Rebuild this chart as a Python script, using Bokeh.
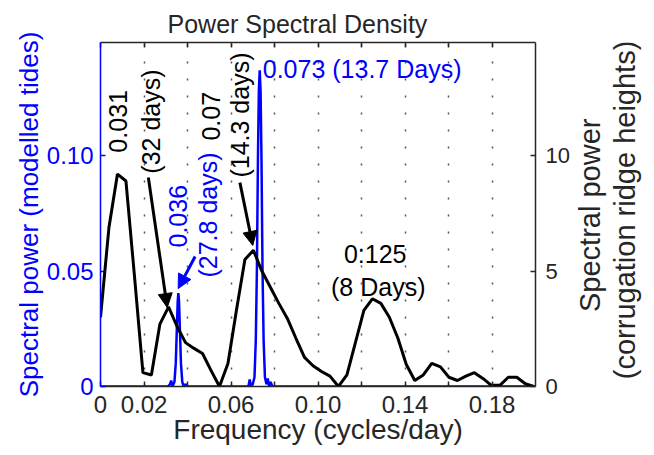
import math
from bokeh.plotting import figure
from bokeh.layouts import row
from bokeh.models import Range1d, LinearAxis, FixedTicker, Arrow, NormalHead, Label, Grid
from bokeh.core.properties import value
from bokeh.embed import file_html
from bokeh.resources import INLINE

# ---------------- data ----------------
# corrugation ridge heights spectrum (right axis)
freq_ridge = [0.0, 0.0039, 0.0078, 0.0117, 0.0156, 0.0195, 0.0234, 0.0273, 0.0313, 0.0352,
              0.0391, 0.0430, 0.0469, 0.0508, 0.0547, 0.0586, 0.0625, 0.0664, 0.0703, 0.0742,
              0.0781, 0.0820, 0.0859, 0.0898, 0.0938, 0.0977, 0.1016, 0.1055, 0.1094, 0.1133,
              0.1172, 0.1211, 0.1250, 0.1289, 0.1328, 0.1367, 0.1406, 0.1445, 0.1484, 0.1523,
              0.1563, 0.1602, 0.1641, 0.1680, 0.1719, 0.1758, 0.1797, 0.1836, 0.1875, 0.1914,
              0.1953, 0.1992]
power_ridge = [3.0, 6.9, 9.2, 8.9, 4.8, 0.6, 0.5, 2.7, 3.45, 2.6,
               1.9, 1.65, 1.43, 0.7, 0.0, 1.0, 3.3, 5.5, 5.9, 5.0,
               4.3, 3.6, 2.95, 2.1, 1.26, 0.9, 0.65, 0.45, 0.0, 0.5,
               1.9, 3.3, 3.8, 3.6, 3.0, 2.1, 0.95, 0.26, 0.5, 1.0,
               0.85, 0.4, 0.26, 0.45, 0.6, 0.35, 0.05, 0.05, 0.4, 0.4,
               0.12, 0.0]

# modelled tides spectrum (left axis)
freq_tide = [0.0, 0.0310, 0.0320, 0.0325, 0.0331, 0.0340, 0.0346, 0.0351, 0.0355, 0.0358,
             0.0361, 0.0365, 0.0370, 0.0376, 0.0382, 0.0390, 0.0400, 0.0660, 0.0680, 0.0686,
             0.0692, 0.0700, 0.0708, 0.0714, 0.0719, 0.0724, 0.0728, 0.0732, 0.0736, 0.0740,
             0.0745, 0.0750, 0.0756, 0.0763, 0.0769, 0.0775, 0.0782, 0.0790, 0.0800, 0.2000]
power_tide = [0.0, 0.0, 0.001, 0.0026, 0.0, 0.002, 0.010, 0.025, 0.037, 0.0405,
              0.037, 0.025, 0.010, 0.002, 0.0, 0.001, 0.0, 0.0, 0.0, 0.003,
              0.0, 0.001, 0.004, 0.02, 0.05, 0.10, 0.128, 0.137, 0.128, 0.10,
              0.05, 0.02, 0.004, 0.001, 0.0035, 0.0, 0.002, 0.0, 0.0, 0.0]

x_tick_values = [0.0, 0.02, 0.04, 0.06, 0.08, 0.10, 0.12, 0.14, 0.16, 0.18]
x_tick_labels = ["0", "0.02", "", "0.06", "", "0.10", "", "0.14", "", "0.18"]
x_grid_values = [0.02, 0.04, 0.06, 0.08, 0.10, 0.12, 0.14, 0.16, 0.18]
left_tick_values = [0.0, 0.05, 0.10]
left_tick_labels = ["0", "0.05", "0.10"]
right_tick_values = [0, 5, 10]
right_tick_labels = ["0", "5", "10"]

# annotations
rot_text = ["0.031", "(32 days)", "0.036", "(27.8 days)", "0.07", "(14.3 days)"]
rot_x = [0.0082, 0.0233, 0.0357, 0.0494, 0.0508, 0.0641]
rot_y = [0.1013, 0.0922, 0.0602, 0.0472, 0.1065, 0.0905]
rot_color = ["black", "black", "#0000ff", "#0000ff", "black", "black"]

hor_text = ["0.073 (13.7 Days)", "0:125", "(8 Days)"]
hor_x = [0.0746, 0.1263, 0.1277]
hor_y = [0.1377, 0.0576, 0.0433]
hor_align = ["left", "center", "center"]
hor_color = ["#0000ff", "black", "black"]

arrow_x0 = [0.0220, 0.0435, 0.0641]
arrow_y0 = [0.0905, 0.0563, 0.0883]
arrow_x1 = [0.0307, 0.0357, 0.0700]
arrow_y1 = [0.0342, 0.0424, 0.0611]
arrow_color = ["black", "#0000ff", "black"]

right_label_lines = ["Spectral power", "(corrugation ridge heights)"]

FONT = "Liberation Sans"
DARK = "#262626"
BLUE = "#0000ff"

p = figure(width=572, height=452, output_backend="svg", toolbar_location=None,
           x_range=Range1d(0, 0.2), y_range=Range1d(0, 0.149),
           x_axis_location=None, y_axis_location=None,
           min_border_left=100, min_border_right=35, min_border_top=42, min_border_bottom=66)
p.extra_y_ranges = {"ridge": Range1d(0, 14.9)}
p.outline_line_color = None
p.background_fill_color = "white"
p.border_fill_color = "white"
p.center = [r for r in p.center if not isinstance(r, Grid)]

p.title.text = "Power Spectral Density"
p.title.text_font = FONT
p.title.text_font_size = "25px"
p.title.text_font_style = "normal"
p.title.text_color = DARK
p.title.align = "left"
p.title.offset = 67
p.title.standoff = 10


def style_axis(ax, color, label_size, tick_size="24px"):
    ax.axis_line_color = color
    ax.axis_line_width = 1.5
    ax.major_tick_line_color = color
    ax.major_tick_line_width = 1.5
    ax.major_tick_in = 5
    ax.major_tick_out = 0
    ax.minor_tick_line_color = None
    ax.major_label_text_color = color
    ax.major_label_text_font = FONT
    ax.major_label_text_font_size = tick_size
    ax.axis_label_text_color = color
    ax.axis_label_text_font = FONT
    ax.axis_label_text_font_size = label_size
    ax.axis_label_text_font_style = "normal"


bottom = LinearAxis(ticker=FixedTicker(ticks=x_tick_values),
                    major_label_overrides=dict(zip(x_tick_values, x_tick_labels)),
                    axis_label="Frequency (cycles/day)")
style_axis(bottom, DARK, "28px")
bottom.major_label_standoff = 9
bottom.axis_label_standoff = -2
p.add_layout(bottom, "below")

top = LinearAxis(ticker=FixedTicker(ticks=x_tick_values),
                 major_label_overrides=dict(zip(x_tick_values, [""] * len(x_tick_values))))
style_axis(top, DARK, "10px", "1px")
top.major_label_standoff = 0
p.add_layout(top, "above")

left = LinearAxis(ticker=FixedTicker(ticks=left_tick_values),
                  major_label_overrides=dict(zip(left_tick_values, left_tick_labels)),
                  axis_label="Spectral power (modelled tides)")
style_axis(left, BLUE, "26px")
left.major_label_standoff = 7
left.axis_label_standoff = 0
p.add_layout(left, "left")

right = LinearAxis(y_range_name="ridge", ticker=FixedTicker(ticks=right_tick_values),
                   major_label_overrides=dict(zip(right_tick_values, right_tick_labels)))
style_axis(right, DARK, "30px", "22px")
right.major_label_standoff = 10
p.add_layout(right, "right")

grid = Grid(dimension=0, ticker=FixedTicker(ticks=x_grid_values),
            grid_line_color="#555555", grid_line_width=1.5, grid_line_dash="2 15")
p.add_layout(grid)

# curves
p.line(freq_tide, power_tide, line_color=BLUE, line_width=2.5)
p.line(freq_ridge, power_ridge, line_color="black", line_width=3, y_range_name="ridge")

# annotations
for t, x, y, c in zip(rot_text, rot_x, rot_y, rot_color):
    p.add_layout(Label(x=x, y=y, text=t, angle=math.pi / 2, text_align="left",
                       text_baseline="middle", text_color=c, text_font=FONT,
                       text_font_size="25px"))
for t, x, y, a, c in zip(hor_text, hor_x, hor_y, hor_align, hor_color):
    p.add_layout(Label(x=x, y=y, text=t, text_align=a, text_baseline="alphabetic",
                       text_color=c, text_font=FONT, text_font_size="25px"))
for x0, y0, x1, y1, c in zip(arrow_x0, arrow_y0, arrow_x1, arrow_y1, arrow_color):
    p.add_layout(Arrow(x_start=x0, y_start=y0, x_end=x1, y_end=y1, line_color=c, line_width=3,
                       end=NormalHead(size=14, fill_color=c, line_color=c, line_width=1)))

# right-hand axis title (two lines, reading bottom to top) in a narrow side panel
q = figure(width=78, height=452, output_backend="svg", toolbar_location=None,
           x_range=Range1d(0, 78), y_range=Range1d(452, 0),
           x_axis_location=None, y_axis_location=None,
           min_border_left=0, min_border_right=0, min_border_top=0, min_border_bottom=0)
q.center = [r for r in q.center if not isinstance(r, Grid)]
q.outline_line_color = None
q.background_fill_color = "white"
q.border_fill_color = "white"
q.text(x=[17, 52], y=[227, 220], text=right_label_lines, angle=math.pi / 2,
       text_align="center", text_baseline="middle", text_color=DARK,
       text_font=value(FONT), text_font_size="29px")

layout = row(p, q, spacing=0)
open("out.html", "w").write(file_html(layout, INLINE))
